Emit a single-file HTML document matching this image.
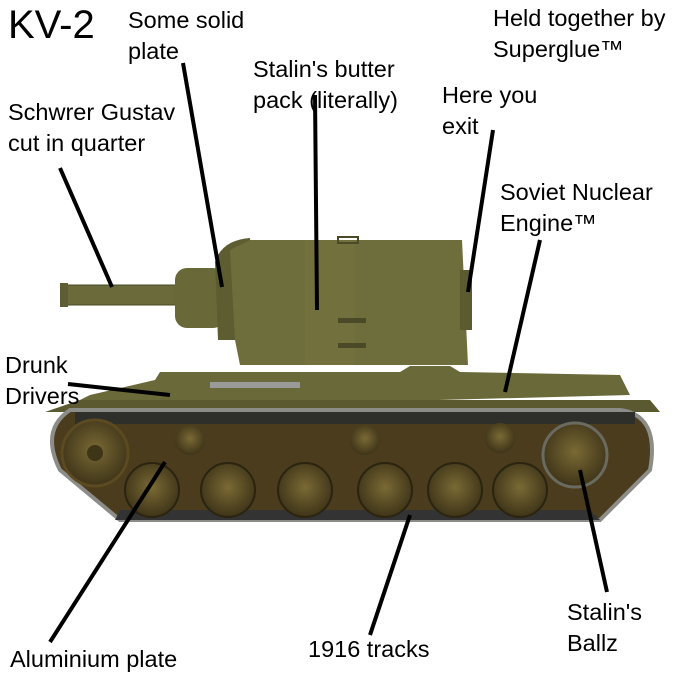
<!DOCTYPE html>
<html><head><meta charset="utf-8"><style>
body{margin:0;background:#fff;}
.wrap{position:relative;width:700px;height:700px;overflow:hidden;font-family:"Liberation Sans",sans-serif;}
.t{position:absolute;font-size:23.5px;line-height:31px;color:#000;white-space:nowrap;}
</style></head><body><div class="wrap">
<svg width="700" height="700" style="position:absolute;left:0;top:0">
<defs>
<radialGradient id="w" cx="50%" cy="45%" r="55%"><stop offset="0" stop-color="#7a6a35"/><stop offset="1" stop-color="#3e3418"/></radialGradient>
</defs>
<rect x="65" y="285" width="115" height="20" fill="#6b6a3a" stroke="#4a4a28"/>
<rect x="60" y="283" width="8" height="24" fill="#5e5d33"/>
<rect x="175" y="268" width="50" height="60" rx="12" fill="#696838"/>
<path d="M215 262 Q222 240 250 238 L250 340 L218 340 Z" fill="#5e5d32"/>
<path d="M230 250 L250 240 L462 240 L468 365 L240 365 L235 340 Z" fill="#6e6d3c"/>
<rect x="305" y="240" width="50" height="125" fill="#75743f" opacity="0.6"/>
<rect x="460" y="270" width="12" height="60" fill="#5c5b30"/>
<rect x="338" y="237" width="20" height="6" fill="none" stroke="#4a4a28" stroke-width="2"/>
<rect x="338" y="318" width="28" height="5" fill="#4a4a28"/>
<rect x="338" y="343" width="28" height="5" fill="#4a4a28"/>
<path d="M155 380 L160 372 L400 372 L410 366 L450 366 L460 372 L620 375 L630 395 L60 410 L90 395 Z" fill="#6a6939"/>
<rect x="210" y="382" width="90" height="6" fill="#9a9a98"/>
<path d="M45 412 L80 400 L650 400 L660 412 L640 412 Z" fill="#5a5930"/>
<path d="M70 410 L620 410 Q660 415 650 470 L600 520 L120 520 L60 470 Q40 430 70 410 Z" fill="#4a3c1c" stroke="#8c8c88" stroke-width="4"/>
<rect x="75" y="412" width="560" height="12" fill="#2e2e2a"/>
<path d="M115 520 L600 520 L590 510 L120 510 Z" fill="#333"/>
<circle cx="95" cy="453" r="33" fill="url(#w)" stroke="#5c4a20" stroke-width="3"/>
<circle cx="95" cy="453" r="8" fill="#3e3418"/>
<circle cx="575" cy="455" r="32" fill="url(#w)" stroke="#6a6a60" stroke-width="3"/>
<circle cx="190" cy="440" r="15" fill="url(#w)"/>
<circle cx="365" cy="440" r="15" fill="url(#w)"/>
<circle cx="500" cy="438" r="15" fill="url(#w)"/>
<g fill="url(#w)" stroke="#2a2410" stroke-width="2">
<circle cx="152" cy="490" r="27"/><circle cx="228" cy="490" r="27"/><circle cx="305" cy="490" r="27"/>
<circle cx="385" cy="490" r="27"/><circle cx="455" cy="490" r="27"/><circle cx="520" cy="490" r="27"/>
</g>
<g stroke="#000" stroke-width="4" stroke-linecap="butt">
<line x1="60" y1="168" x2="112" y2="287"/>
<line x1="183" y1="63" x2="222" y2="287"/>
<line x1="315" y1="95" x2="317" y2="310"/>
<line x1="493" y1="130" x2="468" y2="292"/>
<line x1="540" y1="240" x2="505" y2="392"/>
<line x1="68" y1="384" x2="170" y2="395"/>
<line x1="50" y1="642" x2="165" y2="462"/>
<line x1="370" y1="635" x2="410" y2="515"/>
<line x1="607" y1="592" x2="580" y2="470"/>
</g>
</svg>
<div class="t" style="left:8px;top:2px;font-size:40px;line-height:46px">KV-2</div>
<div class="t" style="left:128px;top:5px">Some solid<br>plate</div>
<div class="t" style="left:493px;top:3px">Held together by<br>Superglue™</div>
<div class="t" style="left:253px;top:54px">Stalin's butter<br>pack (literally)</div>
<div class="t" style="left:442px;top:80px">Here you<br>exit</div>
<div class="t" style="left:8px;top:97px">Schwrer Gustav<br>cut in quarter</div>
<div class="t" style="left:500px;top:177px">Soviet Nuclear<br>Engine™</div>
<div class="t" style="left:5px;top:350px">Drunk<br>Drivers</div>
<div class="t" style="left:10px;top:644px">Aluminium plate</div>
<div class="t" style="left:308px;top:634px">1916 tracks</div>
<div class="t" style="left:567px;top:597px">Stalin's<br>Ballz</div>
</div></body></html>
